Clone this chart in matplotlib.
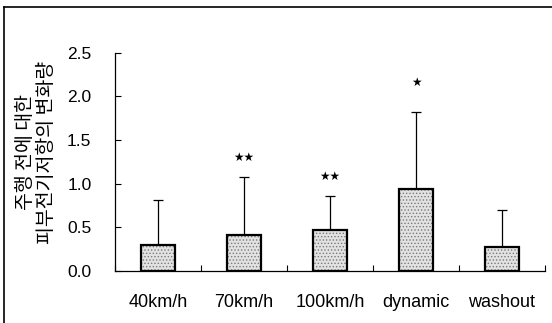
import matplotlib
matplotlib.use("Agg")
import matplotlib.pyplot as plt
from matplotlib.lines import Line2D
import numpy as np

plt.rcParams['font.family'] = ['Liberation Sans', 'Noto Sans CJK KR', 'DejaVu Sans']

categories = ['40km/h', '70km/h', '100km/h', 'dynamic', 'washout']
means = [0.29, 0.41, 0.47, 0.94, 0.275]
sds = [0.52, 0.66, 0.39, 0.88, 0.425]
sig = ['', '★★', '★★', '★', '']
y_ticks = [0.0, 0.5, 1.0, 1.5, 2.0, 2.5]
y_label = '주행 전에 대한\n피부전기저항의 변화량'

fig = plt.figure(figsize=(5.52, 3.23), dpi=100)
ax = fig.add_axes([115/552, 1-270.7/323, 430/552, 218/323])

x = np.arange(len(categories))
w = 0.39
plt.rcParams['hatch.linewidth'] = 0.6
ax.bar(x, means, width=w, color='#e2e2e2', edgecolor='#7a7a7a', hatch='.....', linewidth=0, zorder=2)
ax.bar(x, means, width=w, fill=False, edgecolor='black', linewidth=1.6, zorder=3)
ax.errorbar(x, means, yerr=[np.zeros(len(sds)), sds], fmt='none', ecolor='black',
            elinewidth=0.9, capsize=3.5, capthick=0.9, zorder=1)

for xi, m, s, lab in zip(x, means, sds, sig):
    if lab:
        off = 0.15 if len(lab) == 2 else 0.26
        ax.text(xi, m + s + off, lab, ha='center', va='bottom', fontsize=8.5,
                family='DejaVu Sans')

ax.set_xlim(-0.5, 4.5)
ax.set_ylim(0, 2.5)
ax.set_yticks(y_ticks)
ax.set_yticklabels([f'{v:.1f}' for v in y_ticks], fontsize=12.5)
ax.set_xticks(x)
ax.set_xticklabels(categories, fontsize=13)
ax.set_xticks(np.arange(-0.5, 4.6, 1.0), minor=True)
ax.tick_params(axis='x', which='major', length=0, pad=17)
ax.tick_params(axis='x', which='minor', direction='in', length=4, width=0.8)
ax.tick_params(axis='y', direction='in', length=4, width=0.8, pad=17)
for sp in ['top', 'right']:
    ax.spines[sp].set_visible(False)
for sp in ['left', 'bottom']:
    ax.spines[sp].set_linewidth(0.9)

fig.text(36/552, 1-152/323, y_label, rotation=90, ha='center', va='center',
         fontsize=14, linespacing=0.95, family=['Noto Sans CJK KR'])

# outer frame (left and top)
fig.add_artist(Line2D([4/552, 4/552], [0, 1-7/323], color='black', lw=1.2, transform=fig.transFigure))
fig.add_artist(Line2D([4/552, 1.0], [1-7/323, 1-7/323], color='black', lw=1.2, transform=fig.transFigure))

fig.savefig('out.png', dpi=100)
